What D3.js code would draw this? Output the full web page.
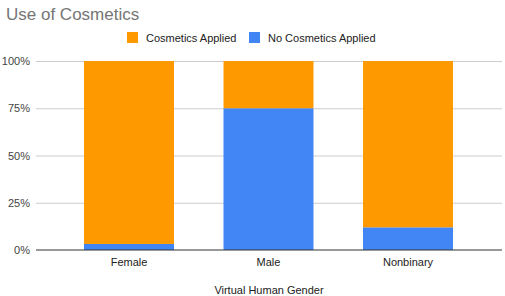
<!DOCTYPE html>
<html>
<head>
<meta charset="utf-8">
<script src="https://cdn.jsdelivr.net/npm/d3@7"></script>
<style>
  body { margin: 0; background: #fff; }
  svg { display: block; font-family: "Liberation Sans", Arial, sans-serif; }
</style>
</head>
<body>
<div id="chart"></div>
<script>
// --- Data ---
const categories = ["Female", "Male", "Nonbinary"];
const noCosmetics = [0.032, 0.75, 0.12];
const cosmetics = [0.968, 0.25, 0.88];
const seriesNames = ["Cosmetics Applied", "No Cosmetics Applied"];
const yTicks = [0, 0.25, 0.5, 0.75, 1];

const W = 505, H = 296;
const plot = { left: 36, right: 502, top: 61, bottom: 250 };

const colors = { "No Cosmetics Applied": "#4285f4", "Cosmetics Applied": "#ff9900" };

const svg = d3.select("#chart").append("svg")
  .attr("width", W)
  .attr("height", H);

// Scales
const x = d3.scaleBand()
  .domain(categories)
  .range([59.25, 477.75])
  .paddingInner(0.355)
  .paddingOuter(0.1775);

const y = d3.scaleLinear()
  .domain([0, 1])
  .range([plot.bottom, plot.top]);

// Title
svg.append("text")
  .attr("x", 6)
  .attr("y", 20)
  .attr("fill", "#757575")
  .style("font-size", "17px")
  .text("Use of Cosmetics");

// Grid
svg.append("g")
  .attr("transform", `translate(${plot.left},0)`)
  .call(d3.axisLeft(y).tickValues(yTicks.slice(1)).tickSize(-(plot.right - plot.left)).tickFormat(""))
  .call(g => g.select(".domain").remove())
  .call(g => g.selectAll("line").attr("stroke", "#cccccc"));

// Y labels
svg.append("g")
  .attr("transform", `translate(${plot.left},0)`)
  .call(d3.axisLeft(y).tickValues(yTicks).tickSize(0).tickPadding(6).tickFormat(d3.format(".0%")))
  .call(g => g.select(".domain").remove())
  .call(g => g.selectAll("text")
    .attr("fill", "#444")
    .style("font-size", "11px")
    .style("font-family", "'Liberation Sans', Arial, sans-serif"));

// Stack
const rows = categories.map((c, i) => ({
  cat: c,
  "No Cosmetics Applied": noCosmetics[i],
  "Cosmetics Applied": cosmetics[i]
}));
const stacked = d3.stack().keys(["No Cosmetics Applied", "Cosmetics Applied"])(rows);

svg.selectAll(".layer")
  .data(stacked)
  .join("g")
  .attr("class", "layer")
  .attr("fill", d => colors[d.key])
  .selectAll("rect")
  .data(d => d)
  .join("rect")
  .attr("x", d => x(d.data.cat))
  .attr("width", x.bandwidth())
  .attr("y", d => y(d[1]))
  .attr("height", d => y(d[0]) - y(d[1]));

// X axis
svg.append("line")
  .attr("x1", plot.left).attr("x2", plot.right)
  .attr("y1", plot.bottom).attr("y2", plot.bottom)
  .attr("stroke", "#333");

svg.append("g")
  .attr("transform", `translate(0,${plot.bottom})`)
  .call(d3.axisBottom(x).tickSize(0).tickPadding(8))
  .call(g => g.select(".domain").remove())
  .call(g => g.selectAll("text")
    .attr("fill", "#222")
    .style("font-size", "11px")
    .style("font-family", "'Liberation Sans', Arial, sans-serif"));

// Axis title
svg.append("text")
  .attr("x", (plot.left + plot.right) / 2 + 0)
  .attr("y", 294)
  .attr("text-anchor", "middle")
  .attr("fill", "#222")
  .style("font-size", "11px")
  .text("Virtual Human Gender");

// Legend
const legendItems = [
  { name: seriesNames[0], x: 127 },
  { name: seriesNames[1], x: 249 }
];
const legend = svg.selectAll(".legend")
  .data(legendItems)
  .join("g")
  .attr("class", "legend")
  .attr("transform", d => `translate(${d.x},32)`);

legend.append("rect")
  .attr("width", 11)
  .attr("height", 11)
  .attr("fill", d => colors[d.name]);

legend.append("text")
  .attr("x", 19)
  .attr("y", 9.5)
  .attr("fill", "#222")
  .style("font-size", "11px")
  .text(d => d.name);
</script>
</body>
</html>
